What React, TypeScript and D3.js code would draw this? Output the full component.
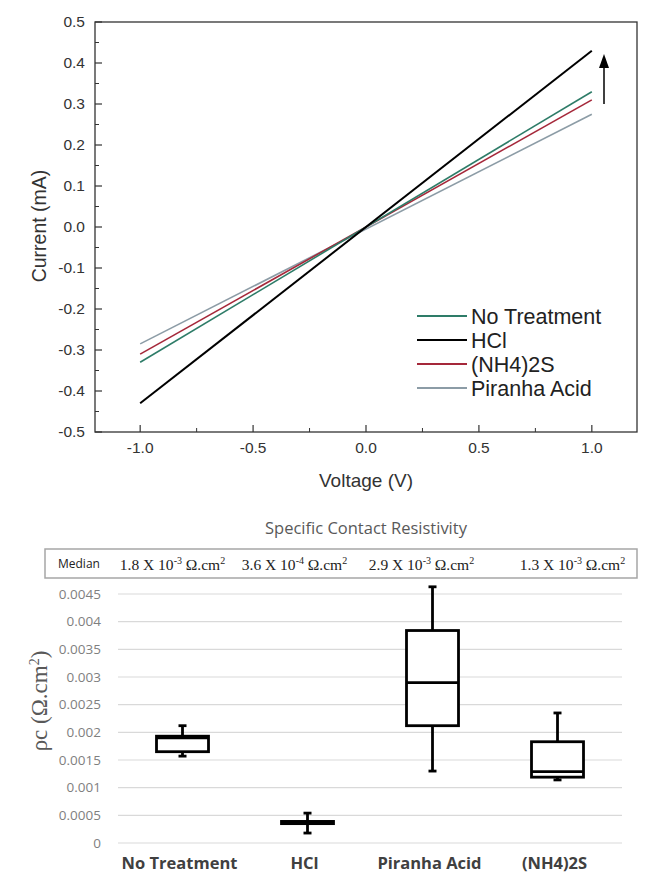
import React from "react";
import * as d3 from "d3";

// ---------- Top chart data (I-V curves) ----------
const voltages = [-1.0, 1.0];
const ivSeries = ["No Treatment", "HCl", "(NH4)2S", "Piranha Acid"];
const currentNoTreatment = [-0.33, 0.33];
const currentHCl = [-0.43, 0.43];
const currentNH4S = [-0.31, 0.31];
const currentPiranha = [-0.285, 0.275];
const ivColors = ["#2e7c68", "#000000", "#a5283a", "#8c9ca6"];
const xTicks = [-1.0, -0.5, 0.0, 0.5, 1.0];
const yTicks = [-0.5, -0.4, -0.3, -0.2, -0.1, 0.0, 0.1, 0.2, 0.3, 0.4, 0.5];

// ---------- Bottom chart data (box plots) ----------
const boxCategories = ["No Treatment", "HCl", "Piranha Acid", "(NH4)2S"];
const boxMin = [0.00157, 0.00018, 0.0013, 0.00114];
const boxQ1 = [0.00165, 0.00035, 0.00212, 0.00119];
const boxMedian = [0.0019, 0.00037, 0.0029, 0.00129];
const boxQ3 = [0.00193, 0.00039, 0.00384, 0.00183];
const boxMax = [0.00212, 0.00054, 0.00463, 0.00235];
const medianMantissa = ["1.8", "3.6", "2.9", "1.3"];
const medianExp = ["-3", "-4", "-3", "-3"];
const rhoTicks = [0, 0.0005, 0.001, 0.0015, 0.002, 0.0025, 0.003, 0.0035, 0.004, 0.0045];

export default function App() {
  const x = d3.scaleLinear().domain([-1.2, 1.2]).range([95, 637]);
  const y = d3.scaleLinear().domain([-0.5, 0.5]).range([432, 22]);
  const seriesValues = [currentNoTreatment, currentHCl, currentNH4S, currentPiranha];
  const line = d3
    .line<[number, number]>()
    .x((d) => x(d[0]))
    .y((d) => y(d[1]));
  const xMinor = d3.range(-1.0, 1.01, 0.25);
  const yMinor = d3.range(-0.45, 0.5, 0.1);

  const bx = d3.scaleBand().domain(boxCategories).range([120, 620]).padding(0);
  const by = d3.scaleLinear().domain([0, 0.0045]).range([843, 594]);
  const boxW = 52;
  const medianShift = [-10, -13, -11, 15];

  const fontSans = "'Liberation Sans', Arial, sans-serif";
  const fontCal = "'Open Sans', 'Noto Sans', sans-serif";
  const fontSerif = "'Liberation Serif', 'Times New Roman', serif";

  return (
    <svg
      width={647}
      height={882}
      style={{ position: "absolute", left: 0, top: 0, background: "#fff" }}
    >
      <rect x={0} y={0} width={647} height={882} fill="#fff" />
      {/* ---------- Top chart ---------- */}
      <rect x={95} y={22} width={542} height={410} fill="none" stroke="#333" strokeWidth={1.3} />
      {yTicks.map((t) => (
        <g key={"yt" + t}>
          <line x1={95} x2={102} y1={y(t)} y2={y(t)} stroke="#333" strokeWidth={1.2} />
          <text
            x={85}
            y={y(t)}
            dy="0.35em"
            textAnchor="end"
            fontFamily={fontSans}
            fontSize={15.5}
            fill="#333"
          >
            {t.toFixed(1)}
          </text>
        </g>
      ))}
      {yMinor.map((t) => (
        <line key={"ym" + t} x1={95} x2={99} y1={y(t)} y2={y(t)} stroke="#333" strokeWidth={1} />
      ))}
      {xMinor.map((t) => {
        const major = Math.abs(t * 2 - Math.round(t * 2)) < 1e-6;
        return (
          <line
            key={"xm" + t}
            x1={x(t)}
            x2={x(t)}
            y1={432}
            y2={major ? 425 : 428}
            stroke="#333"
            strokeWidth={major ? 1.2 : 1}
          />
        );
      })}
      {xTicks.map((t) => (
        <text
          key={"xt" + t}
          x={x(t)}
          y={453}
          textAnchor="middle"
          fontFamily={fontSans}
          fontSize={15.5}
          fill="#333"
        >
          {t.toFixed(1)}
        </text>
      ))}
      <text x={366} y={487} textAnchor="middle" fontFamily={fontSans} fontSize={19} fill="#333">
        Voltage (V)
      </text>
      <text
        transform="translate(46,226) rotate(-90)"
        textAnchor="middle"
        fontFamily={fontSans}
        fontSize={19.5}
        fill="#333"
      >
        Current (mA)
      </text>
      {[3, 2, 0, 1].map((i) => (
        <path
          key={"iv" + i}
          d={line(voltages.map((v, k) => [v, seriesValues[i][k]]) as [number, number][]) || ""}
          fill="none"
          stroke={ivColors[i]}
          strokeWidth={i === 1 ? 2 : 1.6}
        />
      ))}
      {/* arrow */}
      <line x1={604} x2={604} y1={104} y2={60} stroke="#000" strokeWidth={1.5} />
      <path d="M599,68 L604,54 L609,68 Z" fill="#000" />
      {/* legend */}
      {ivSeries.map((s, i) => (
        <g key={"lg" + s}>
          <line
            x1={417}
            x2={467}
            y1={316 + i * 24}
            y2={316 + i * 24}
            stroke={ivColors[i]}
            strokeWidth={i === 1 ? 2.2 : 2}
          />
          <text x={471} y={316 + i * 24} dy="0.36em" fontFamily={fontSans} fontSize={21.5} fill="#222">
            {s}
          </text>
        </g>
      ))}

      {/* ---------- Bottom chart ---------- */}
      <text x={366} y={534} textAnchor="middle" fontFamily={fontCal} fontSize={16.5} fill="#595959">
        Specific Contact Resistivity
      </text>
      <rect x={45} y={549} width={592} height={29} fill="#fff" stroke="#a6a6a6" strokeWidth={1.5} />
      <text x={58} y={568} fontFamily={fontCal} fontSize={12} fill="#222">
        Median
      </text>
      {boxCategories.map((c, i) => (
        <text
          key={"md" + c}
          x={(bx(c) as number) + bx.bandwidth() / 2 + medianShift[i]}
          y={570}
          textAnchor="middle"
          fontFamily={fontSerif}
          fontSize={15.5}
          fill="#222"
        >
          {medianMantissa[i]} X 10
          <tspan dy={-6} fontSize={10}>
            {medianExp[i]}
          </tspan>
          <tspan dy={6}> Ω.cm</tspan>
          <tspan dy={-6} fontSize={10}>
            2
          </tspan>
        </text>
      ))}
      {rhoTicks.map((t) => (
        <g key={"rt" + t}>
          <line x1={118} x2={622} y1={by(t)} y2={by(t)} stroke="#d9d9d9" strokeWidth={1.2} />
          <text
            x={101}
            y={by(t)}
            dy="0.35em"
            textAnchor="end"
            fontFamily={fontCal}
            fontSize={13.5}
            fill="#7f7f7f"
          >
            {String(t)}
          </text>
        </g>
      ))}
      <text
        transform="translate(47,701) rotate(-90)"
        textAnchor="middle"
        fontFamily={fontSerif}
        fontSize={23}
        fill="#595959"
      >
        ρc (Ω.cm
        <tspan dy={-8} fontSize={14}>
          2
        </tspan>
        <tspan dy={8}>)</tspan>
      </text>
      {boxCategories.map((c, i) => {
        const cx = (bx(c) as number) + bx.bandwidth() / 2;
        return (
          <g key={"bx" + c} stroke="#000" fill="none" strokeWidth={2.8}>
            <line x1={cx} x2={cx} y1={by(boxMax[i])} y2={by(boxQ3[i])} />
            <line x1={cx} x2={cx} y1={by(boxQ1[i])} y2={by(boxMin[i])} />
            <line x1={cx - 4} x2={cx + 4} y1={by(boxMax[i])} y2={by(boxMax[i])} />
            <line x1={cx - 4} x2={cx + 4} y1={by(boxMin[i])} y2={by(boxMin[i])} />
            <rect
              x={cx - boxW / 2}
              y={by(boxQ3[i])}
              width={boxW}
              height={Math.max(by(boxQ1[i]) - by(boxQ3[i]), 0.5)}
              fill="#fff"
            />
            <line x1={cx - boxW / 2} x2={cx + boxW / 2} y1={by(boxMedian[i])} y2={by(boxMedian[i])} />
          </g>
        );
      })}
      {boxCategories.map((c) => (
        <text
          key={"cl" + c}
          x={(bx(c) as number) + bx.bandwidth() / 2 - 3}
          y={869}
          textAnchor="middle"
          fontFamily={fontCal}
          fontWeight="bold"
          fontSize={16.5}
          fill="#404040"
        >
          {c}
        </text>
      ))}
    </svg>
  );
}
